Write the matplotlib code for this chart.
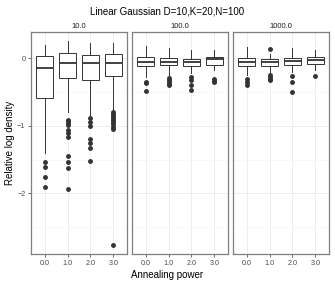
import matplotlib
matplotlib.use("Agg")
import matplotlib.pyplot as plt

plt.rcParams['font.family'] = ['Liberation Sans', 'DejaVu Sans']

# facet labels and x categories
panels = ["10.0", "100.0", "1000.0"]
powers = ["0.0", "1.0", "2.0", "3.0"]

# box stats per panel: [whislo, q1, med, q3, whishi] for each annealing power
stats_10 = [
    [-1.41, -0.59, -0.14, 0.035, 0.19],
    [-0.80, -0.29, -0.065, 0.075, 0.26],
    [-0.85, -0.32, -0.065, 0.045, 0.23],
    [-0.76, -0.26, -0.065, 0.06, 0.23],
]
stats_100 = [
    [-0.27, -0.12, -0.05, 0.02, 0.18],
    [-0.25, -0.10, -0.05, 0.005, 0.16],
    [-0.22, -0.11, -0.05, -0.01, 0.13],
    [-0.18, -0.10, -0.01, 0.02, 0.12],
]
stats_1000 = [
    [-0.25, -0.12, -0.05, 0.005, 0.17],
    [-0.20, -0.11, -0.06, -0.01, 0.07],
    [-0.20, -0.10, -0.04, 0.005, 0.16],
    [-0.17, -0.08, -0.02, 0.015, 0.13],
]

# outliers per panel, per annealing power
fliers_10 = [
    [-1.53, -1.61, -1.76, -1.91],
    [-0.91, -0.93, -0.96, -0.99, -1.06, -1.11, -1.16, -1.45, -1.53, -1.63, -1.93],
    [-0.89, -0.94, -1.01, -1.20, -1.26, -1.33, -1.52],
    [-0.80, -0.83, -0.86, -0.89, -0.92, -0.95, -0.98, -1.02, -1.05, -2.76],
]
fliers_100 = [
    [-0.35, -0.37, -0.48],
    [-0.29, -0.32, -0.35, -0.38, -0.40],
    [-0.28, -0.32, -0.39, -0.47],
    [-0.30, -0.33, -0.35],
]
fliers_1000 = [
    [-0.30, -0.35, -0.40],
    [-0.25, -0.28, -0.30, -0.32, 0.14],
    [-0.26, -0.35, -0.50],
    [-0.26],
]

all_stats = [stats_10, stats_100, stats_1000]
all_fliers = [fliers_10, fliers_100, fliers_1000]

fig = plt.figure(figsize=(3.35, 2.84), dpi=100)

left, bottom, w, h, gap = 31 / 335, 1 - 254 / 284, 96 / 335, 222 / 284, 5 / 335
dark = "#333333"
for i, name in enumerate(panels):
    ax = fig.add_axes([left + i * (w + gap), bottom, w, h])
    bxp_stats = []
    for s, fl, lab in zip(all_stats[i], all_fliers[i], powers):
        bxp_stats.append(dict(whislo=s[0], q1=s[1], med=s[2], q3=s[3], whishi=s[4],
                              fliers=fl, label=lab))
    ax.bxp(bxp_stats, positions=range(1, 5), widths=0.75, patch_artist=True,
           showcaps=False,
           boxprops=dict(facecolor="white", edgecolor=dark, linewidth=0.7),
           whiskerprops=dict(color=dark, linewidth=0.7),
           medianprops=dict(color=dark, linewidth=1.3),
           flierprops=dict(marker="o", markersize=2.5, markerfacecolor=dark,
                           markeredgecolor=dark, linestyle="none"))
    ax.set_xlim(0.4, 4.6)
    ax.set_ylim(-2.9, 0.39)
    ax.set_yticks([0, -1, -2])
    ax.set_yticks([-0.5, -1.5, -2.5], minor=True)
    ax.set_xticks(range(1, 5))
    ax.set_xticklabels(powers)
    ax.grid(True, which="major", color="#ebebeb", linewidth=0.6)
    ax.grid(True, which="minor", axis="y", color="#f4f4f4", linewidth=0.4)
    ax.set_axisbelow(True)
    for sp in ax.spines.values():
        sp.set_color("#7f7f7f")
        sp.set_linewidth(0.9)
    ax.tick_params(axis="both", which="major", length=2, width=0.5, color="#333333",
                   labelsize=5.2, labelcolor="#4d4d4d", pad=2)
    ax.tick_params(axis="y", which="minor", length=0)
    if i > 0:
        ax.set_yticklabels([])
        ax.tick_params(axis="y", length=0)
    ax.set_title(name, fontsize=5.5, color="#1a1a1a", pad=3)

fig.text(0.5, 1 - 12 / 284, "Linear Gaussian D=10,K=20,N=100", ha="center", va="center",
         fontsize=7)
fig.text(0.5, 1 - 275 / 284, "Annealing power", ha="center", va="center", fontsize=7)
fig.text(10 / 335, 1 - 143 / 284, "Relative log density", ha="center", va="center",
         rotation=90, fontsize=7)

fig.savefig("out.png", dpi=100)
